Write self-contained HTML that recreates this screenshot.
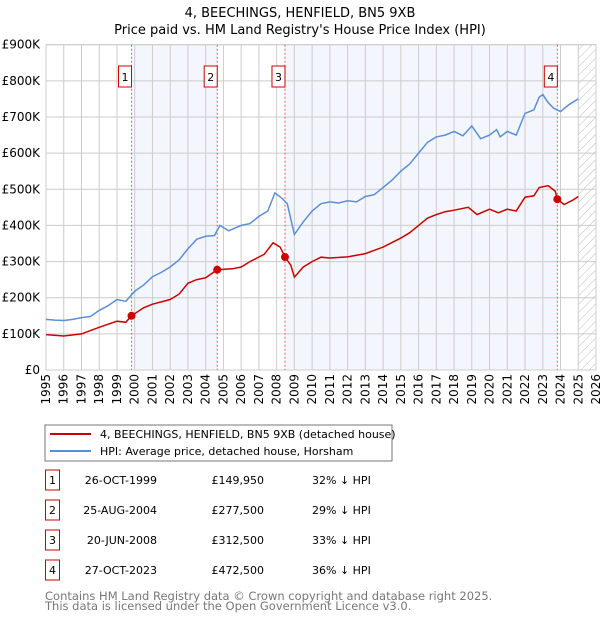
<!DOCTYPE html>
<html><head><meta charset="utf-8"><style>
body{margin:0;background:#fff;font-family:"Liberation Sans","DejaVu Sans",sans-serif;}
svg text{font-family:"DejaVu Sans","Liberation Sans",sans-serif;}
</style></head><body>
<svg id="c" width="600" height="620" xmlns="http://www.w3.org/2000/svg">
<text x="300" y="17" text-anchor="middle" font-size="13">4, BEECHINGS, HENFIELD, BN5 9XB</text>
<text x="300" y="34" text-anchor="middle" font-size="13">Price paid vs. HM Land Registry's House Price Index (HPI)</text>
<g id="plot"></g>
<rect x="45" y="425" width="347" height="36" fill="#fff" stroke="#777"/>
<line x1="50" y1="434" x2="91" y2="434" stroke="#cc0000" stroke-width="2"/>
<text x="100" y="438" font-size="11">4, BEECHINGS, HENFIELD, BN5 9XB (detached house)</text>
<line x1="50" y1="451" x2="91" y2="451" stroke="#5b8fd4" stroke-width="2"/>
<text x="100" y="455" font-size="11">HPI: Average price, detached house, Horsham</text>
<g id="table" font-size="11"></g>
<text x="45" y="600" font-size="11.5" fill="#777">Contains HM Land Registry data © Crown copyright and database right 2025.</text>
<text x="45" y="610" font-size="11.5" fill="#777">This data is licensed under the Open Government Licence v3.0.</text>
</svg>
<script>
const hpiT=[1995,1995.5,1996,1996.5,1997,1997.5,1998,1998.5,1999,1999.5,2000,2000.5,2001,2001.5,2002,2002.5,2003,2003.5,2004,2004.5,2004.8,2005.3,2006,2006.5,2007,2007.5,2007.9,2008.3,2008.6,2009,2009.5,2010,2010.5,2011,2011.5,2012,2012.5,2013,2013.5,2014,2014.5,2015,2015.5,2016,2016.5,2017,2017.5,2018,2018.5,2019,2019.5,2020,2020.4,2020.6,2021,2021.5,2022,2022.5,2022.8,2023,2023.3,2023.6,2024,2024.5,2025];
const hpiV=[140,138,137,140,145,148,165,178,195,190,218,235,258,270,285,305,335,362,370,372,400,385,400,405,425,440,490,475,460,375,410,440,460,465,462,468,465,480,485,505,525,550,570,600,630,645,650,660,648,675,640,650,665,645,660,650,710,720,755,762,740,725,715,735,750];
const redT=[1995,1996,1997,1998,1999,1999.5,1999.82,2000.5,2001,2002,2002.5,2003,2003.5,2004,2004.65,2005.5,2006,2006.5,2007.3,2007.8,2008.2,2008.47,2008.8,2009,2009.5,2010,2010.5,2011,2012,2013,2014,2015,2015.5,2016,2016.5,2017,2017.5,2018,2018.8,2019.3,2020,2020.5,2021,2021.5,2022,2022.5,2022.8,2023.3,2023.7,2023.82,2024.2,2024.7,2025];
const redV=[98,94,100,118,135,132,150,172,182,195,210,240,250,255,277.5,280,285,300,320,352,340,312.5,290,257,285,300,312,310,313,322,340,365,380,400,420,430,438,442,450,430,445,435,445,440,478,482,505,510,495,472.5,458,470,480];
const saleT=[1999.82,2004.65,2008.47,2023.82];
const saleV=[149.95,277.5,312.5,472.5];
const saleDates=["26-OCT-1999","25-AUG-2004","20-JUN-2008","27-OCT-2023"];
const salePrices=["£149,950","£277,500","£312,500","£472,500"];
const salePct=["32% ↓ HPI","29% ↓ HPI","33% ↓ HPI","36% ↓ HPI"];
const yTicks=[0,100,200,300,400,500,600,700,800,900];
const yLabels=["£0","£100K","£200K","£300K","£400K","£500K","£600K","£700K","£800K","£900K"];
const xYears=[];for(let y=1995;y<=2026;y++)xYears.push(y);

const X0=46,X1=596,Y0=370,Y1=44.7;
const sx=t=>X0+(t-1995)/(2026-1995)*(X1-X0);
const sy=v=>Y0-(v/900)*(Y0-Y1);
const NS="http://www.w3.org/2000/svg";
const g=document.getElementById('plot');
function mk(tag,a,p){const e=document.createElementNS(NS,tag);for(const k in a)e.setAttribute(k,a[k]);(p||g).appendChild(e);return e;}
for(let i=0;i<saleT.length;i+=2){
 const r=mk('rect',{x:sx(saleT[i]),y:Y1,width:sx(saleT[i+1])-sx(saleT[i]),height:Y0-Y1,fill:'#f3f6fd'});
 
 
}
const defs=mk('defs',{});
const pat=mk('pattern',{id:'h',width:6,height:6,patternUnits:'userSpaceOnUse',patternTransform:'rotate(45)'},defs);
mk('line',{x1:0,y1:0,x2:0,y2:6,stroke:'#bbb','stroke-width':1},pat);
const hr=mk('rect',{x:sx(2025),y:Y1,width:X1-sx(2025),height:Y0-Y1,fill:'url(#h)'});


xYears.forEach(y=>{
 const l=mk('line',{x1:sx(y),y1:Y1,x2:sx(y),y2:Y0,stroke:'#cccccc'});
 
 
 const t=mk('text',{x:0,y:0,'font-size':12,'text-anchor':'end',transform:`translate(${sx(y)+4},${Y0+4}) rotate(-90)`});
 t.textContent=y;
 
 
});
yTicks.forEach((v,i)=>{
 const l=mk('line',{x1:X0,y1:sy(v),x2:X1,y2:sy(v),stroke:'#cccccc'});
 
 
 const t=mk('text',{x:X0-6,y:sy(v)+4,'font-size':12,'text-anchor':'end'});
 t.textContent=yLabels[i];
 
 
});
mk('rect',{x:X0,y:Y1,width:X1-X0,height:Y0-Y1,fill:'none',stroke:'#ccc'});
saleT.forEach((t,i)=>{
 const l=mk('line',{x1:sx(t),y1:Y1,x2:sx(t),y2:Y0,stroke:'#e06060','stroke-dasharray':'2,2'});
 
 
 const b=mk('rect',{x:sx(t)-13,y:66,width:13,height:21,fill:'#fff',stroke:'#cc0000'});
 
 
 const tx=mk('text',{x:sx(t)-6.5,y:81,'font-size':11,'text-anchor':'middle'});
 tx.textContent=i+1;
 
 
});
function path(T,V,c,name){
 const d=T.map((t,i)=>(i?'L':'M')+sx(t).toFixed(1)+','+sy(V[i]).toFixed(1)).join('');
 const p=mk('path',{d:d,fill:'none',stroke:c,'stroke-width':1.5});
 
 
}
path(hpiT,hpiV,'#5b8fd4','hpi-line');
path(redT,redV,'#cc0000','property-price-line');
saleT.forEach((t,i)=>{
 const c=mk('circle',{cx:sx(t),cy:sy(saleV[i]),r:4,fill:'#cc0000'});
 
 
});
const tb=document.getElementById('table');
saleDates.forEach((d,i)=>{
 const y=483+i*30;
 const b=mk('rect',{x:45.5,y:y-13,width:14,height:20,fill:'#fff',stroke:'#cc0000'},tb);
 
 
 const n=mk('text',{x:52.5,y:y+1,'text-anchor':'middle'},tb);n.textContent=i+1;
 
 
 const a=mk('text',{x:157,y:y+1,'text-anchor':'end'},tb);a.textContent=d;
 
 
 const p=mk('text',{x:264,y:y+1,'text-anchor':'end'},tb);p.textContent=salePrices[i];
 
 
 const q=mk('text',{x:312,y:y+1},tb);q.textContent=salePct[i];
 
 
});
</script>
</body></html>
